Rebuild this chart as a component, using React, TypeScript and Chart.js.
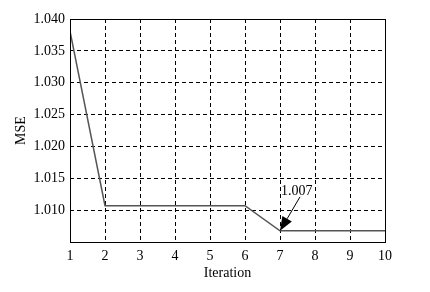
import React, { useEffect, useRef } from "react";
import { Chart, registerables } from "chart.js";

Chart.register(...registerables);

const iterations = [1, 2, 3, 4, 5, 6, 7, 8, 9, 10];
const mseValues = [1.0381, 1.0107, 1.0107, 1.0107, 1.0107, 1.0107, 1.00675, 1.00675, 1.00675, 1.00675];
const annotationIndex = 6;
const annotationLabel = "1.007";
const yTickLabels = ["1.010", "1.015", "1.020", "1.025", "1.030", "1.035", "1.040"];

const FONT = "'Liberation Serif', 'Times New Roman', serif";

const framePlugin = {
  id: "frameAndArrow",
  afterDraw(chart: any) {
    const { ctx, chartArea } = chart;
    ctx.save();
    ctx.strokeStyle = "#000";
    ctx.lineWidth = 1;
    ctx.setLineDash([]);
    ctx.strokeRect(
      Math.round(chartArea.left) + 0.5,
      Math.round(chartArea.top) + 0.5,
      Math.round(chartArea.right - chartArea.left),
      Math.round(chartArea.bottom - chartArea.top)
    );
    const xs = chart.scales.x;
    const ys = chart.scales.y;
    const tipX = xs.getPixelForValue(iterations[annotationIndex]);
    const tipY = ys.getPixelForValue(mseValues[annotationIndex]);
    const tailX = tipX + 20;
    const tailY = tipY - 34;
    const ang = Math.atan2(tipY - tailY, tipX - tailX);
    const headLen = 14;
    const headW = 5.5;
    const bx = tipX - headLen * Math.cos(ang);
    const by = tipY - headLen * Math.sin(ang);
    ctx.strokeStyle = "#000";
    ctx.lineWidth = 1;
    ctx.beginPath();
    ctx.moveTo(tailX, tailY);
    ctx.lineTo(bx, by);
    ctx.stroke();
    ctx.fillStyle = "#000";
    ctx.beginPath();
    ctx.moveTo(tipX, tipY);
    ctx.lineTo(bx + headW * Math.sin(ang), by - headW * Math.cos(ang));
    ctx.lineTo(bx - headW * Math.sin(ang), by + headW * Math.cos(ang));
    ctx.closePath();
    ctx.fill();
    ctx.font = `14px ${FONT}`;
    ctx.textAlign = "left";
    ctx.textBaseline = "alphabetic";
    ctx.fillText(annotationLabel, tipX + 1, tipY - 36);
    ctx.restore();
  },
};

export default function App() {
  const ref = useRef<HTMLCanvasElement>(null);
  useEffect(() => {
    document.body.style.margin = "0";
    const chart = new Chart(ref.current!, {
      type: "line",
      data: {
        datasets: [
          {
            data: iterations.map((x, i) => ({ x, y: mseValues[i] })),
            borderColor: "#555",
            borderWidth: 1.5,
            pointRadius: 0,
            fill: false,
            tension: 0,
          },
        ],
      },
      options: {
        animation: false,
        responsive: false,
        layout: { padding: { left: 0, right: 45, top: 19, bottom: 0 } },
        plugins: { legend: { display: false }, tooltip: { enabled: false } },
        scales: {
          x: {
            type: "linear",
            min: 1,
            max: 10,
            ticks: {
              stepSize: 1,
              color: "#000",
              font: { family: FONT, size: 14 },
              padding: 6,
              maxRotation: 0,
            },
            grid: { color: "#000", drawTicks: false },
            border: { display: false, dash: [4, 3] },
            title: {
              display: true,
              text: "Iteration",
              color: "#000",
              font: { family: FONT, size: 14 },
              padding: { top: 0, bottom: 10 },
            },
            afterFit(scale: any) {
              scale.height = 50;
            },
          },
          y: {
            type: "linear",
            min: 1.005,
            max: 1.04,
            ticks: {
              stepSize: 0.005,
              color: "#000",
              font: { family: FONT, size: 14 },
              padding: 5,
              callback: (v: any) => {
                const s = Number(v).toFixed(3);
                return yTickLabels.includes(s) ? s : "";
              },
            },
            grid: { color: "#000", drawTicks: false },
            border: { display: false, dash: [4, 3] },
            title: {
              display: true,
              text: "MSE",
              color: "#000",
              font: { family: FONT, size: 14 },
              padding: { top: 13, bottom: 0 },
            },
            afterFit(scale: any) {
              scale.width = 70;
            },
          },
        },
      },
      plugins: [framePlugin],
    });
    return () => chart.destroy();
  }, []);
  return (
    <div style={{ width: 430, height: 292, background: "#fff" }}>
      <canvas ref={ref} width={430} height={292} />
    </div>
  );
}
